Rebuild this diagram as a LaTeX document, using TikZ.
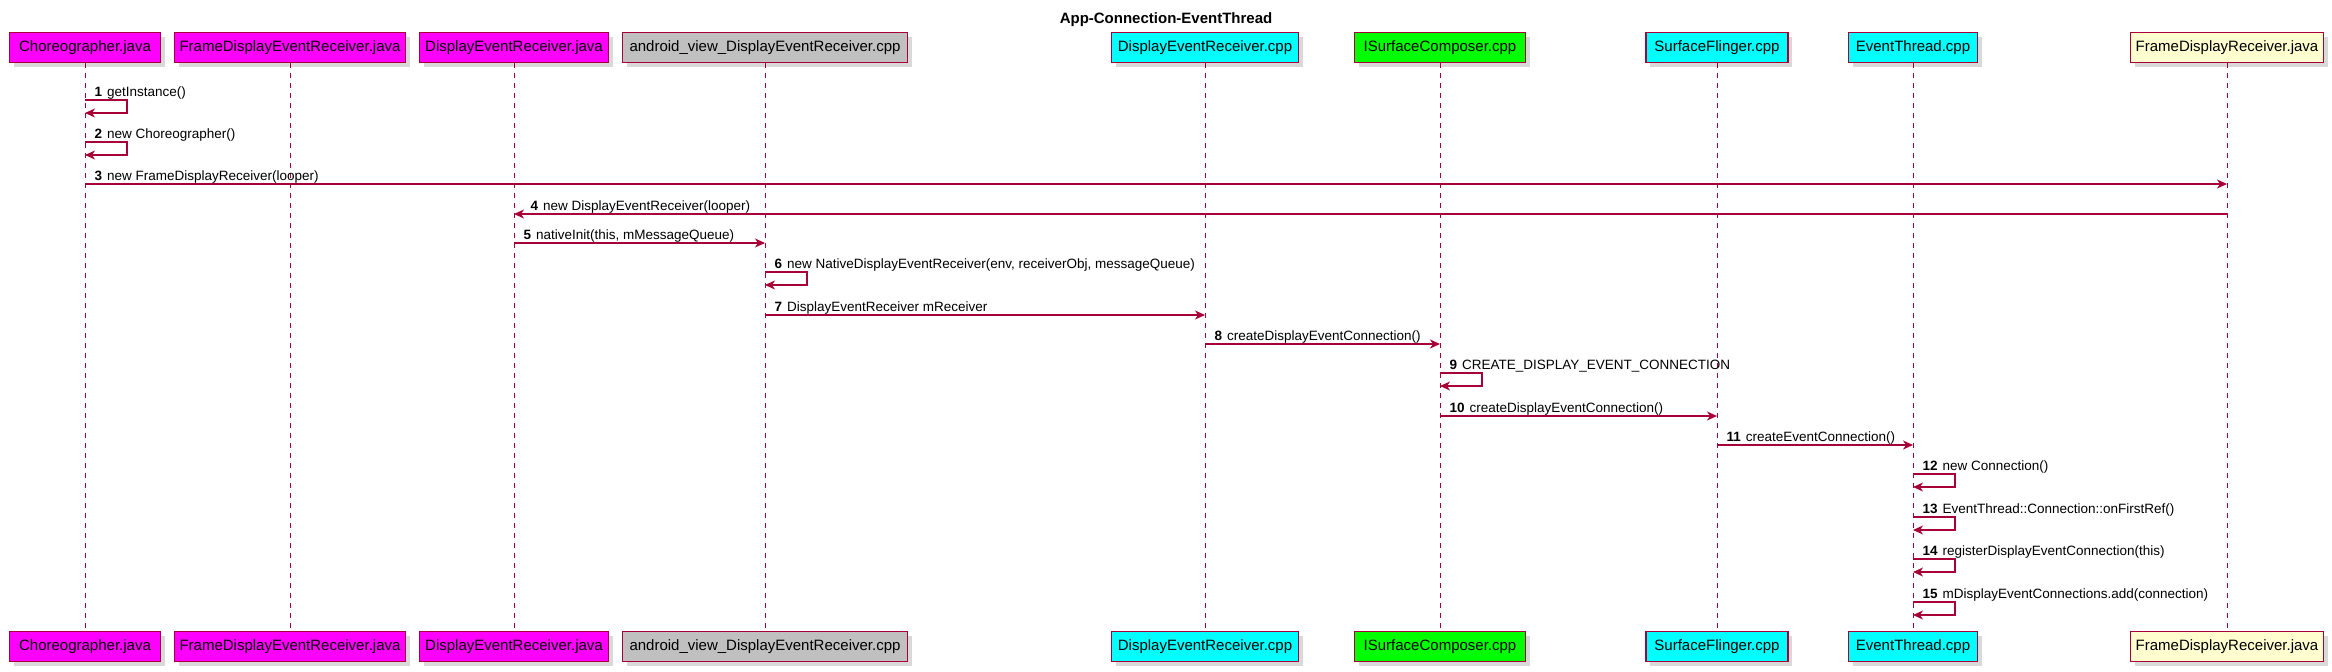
\documentclass[tikz,border=0pt]{standalone}
\usepackage{fontspec}
\setmainfont{Liberation Sans}
\usepackage{xcolor}
\usepackage{tikz}
\usetikzlibrary{arrows.meta,shadows}

\definecolor{umlred}{HTML}{A80036}
\definecolor{pmag}{HTML}{FF00FF}
\definecolor{pcyan}{HTML}{00FFFF}
\definecolor{pgreen}{HTML}{00FF00}
\definecolor{psilver}{HTML}{C0C0C0}
\definecolor{pyellow}{HTML}{FEFECE}
\newcommand{\msgno}[1]{\textbf{#1}\hspace{5pt}}

\begin{document}
\begin{tikzpicture}[
      x=1pt,y=-1pt,
      part/.style={draw=umlred,line width=1.1pt,inner sep=0pt,minimum height=30pt,
        font=\fontsize{15}{18}\selectfont,
        drop shadow={shadow xshift=4pt,shadow yshift=-4pt,opacity=0.3,fill=gray}},
      life/.style={draw=umlred,line width=0.8pt,dash pattern=on 5pt off 5pt},
      msg/.style={draw=umlred,line width=1.2pt,-{Stealth[length=10pt,width=9pt,inset=3pt]}},
      lbl/.style={font=\fontsize{13.5}{16}\selectfont,inner sep=0pt,anchor=base west,
        xshift=9pt,yshift=3.5pt}
]
      \useasboundingbox (0,0) rectangle (2332,672);
      \node[font=\bfseries\fontsize{15}{18}\selectfont] (title) at (1166,20) {App-Connection-EventThread};
      % participants, top and bottom
      \foreach \n/\x/\w/\c/\t in {
          cho/85/151/pmag/Choreographer.java,
          fder/290/231/pmag/FrameDisplayEventReceiver.java,
          der/514/189/pmag/DisplayEventReceiver.java,
          avder/765/285/psilver/android\_view\_DisplayEventReceiver.cpp,
          dercpp/1205/187/pcyan/DisplayEventReceiver.cpp,
          isc/1440/171/pgreen/ISurfaceComposer.cpp,
          sf/1717/142/pcyan/SurfaceFlinger.cpp,
          et/1913/129/pcyan/EventThread.cpp,
          fdr/2227/193/pyellow/FrameDisplayReceiver.java} {
          \node[part,fill=\c,minimum width=\w pt] (\n) at (\x,47.5) {\t};
          \node[part,fill=\c,minimum width=\w pt] (\n-bot) at (\x,646.5) {\t};
          \draw[life] (\n) -- (\n-bot);
      }
      % messages
      \draw[msg] (cho |- 0,100) node[lbl] {\msgno{1}getInstance()}
          -- ++(42,0) -- ++(0,13) -- (cho |- 0,113);
      \draw[msg] (cho |- 0,142) node[lbl] {\msgno{2}new Choreographer()}
          -- ++(42,0) -- ++(0,13) -- (cho |- 0,155);
      \draw[msg] (cho |- 0,184) -- (fdr |- 0,184)
          node[lbl,pos=0] {\msgno{3}new FrameDisplayReceiver(looper)};
      \draw[msg] (fdr |- 0,214) -- (der |- 0,214)
          node[lbl,pos=1,xshift=7pt] {\msgno{4}new DisplayEventReceiver(looper)};
      \draw[msg] (der |- 0,243) -- (avder |- 0,243)
          node[lbl,pos=0] {\msgno{5}nativeInit(this, mMessageQueue)};
      \draw[msg] (avder |- 0,272) node[lbl] {\msgno{6}new NativeDisplayEventReceiver(env, receiverObj, messageQueue)}
          -- ++(42,0) -- ++(0,13) -- (avder |- 0,285);
      \draw[msg] (avder |- 0,315) -- (dercpp |- 0,315)
          node[lbl,pos=0] {\msgno{7}DisplayEventReceiver mReceiver};
      \draw[msg] (dercpp |- 0,344) -- (isc |- 0,344)
          node[lbl,pos=0] {\msgno{8}createDisplayEventConnection()};
      \draw[msg] (isc |- 0,373) node[lbl] {\msgno{9}CREATE\_DISPLAY\_EVENT\_CONNECTION}
          -- ++(42,0) -- ++(0,13) -- (isc |- 0,386);
      \draw[msg] (isc |- 0,416) -- (sf |- 0,416)
          node[lbl,pos=0] {\msgno{10}createDisplayEventConnection()};
      \draw[msg] (sf |- 0,445) -- (et |- 0,445)
          node[lbl,pos=0] {\msgno{11}createEventConnection()};
      \draw[msg] (et |- 0,474) node[lbl] {\msgno{12}new Connection()}
          -- ++(42,0) -- ++(0,13) -- (et |- 0,487);
      \draw[msg] (et |- 0,517) node[lbl] {\msgno{13}EventThread::Connection::onFirstRef()}
          -- ++(42,0) -- ++(0,13) -- (et |- 0,530);
      \draw[msg] (et |- 0,559) node[lbl] {\msgno{14}registerDisplayEventConnection(this)}
          -- ++(42,0) -- ++(0,13) -- (et |- 0,572);
      \draw[msg] (et |- 0,602) node[lbl] {\msgno{15}mDisplayEventConnections.add(connection)}
          -- ++(42,0) -- ++(0,13) -- (et |- 0,615);
\end{tikzpicture}
\end{document}
